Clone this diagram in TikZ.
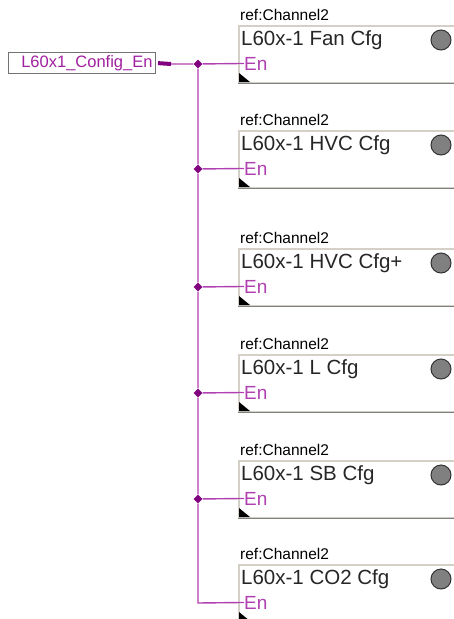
\documentclass[tikz,border=0pt]{standalone}
\usepackage{fontspec}
\setmainfont{Liberation Sans}
\usetikzlibrary{shapes.geometric}

\definecolor{wirecol}{HTML}{B040B0}
\definecolor{dotcol}{HTML}{800080}
\definecolor{txtcol}{HTML}{A020A0}
\definecolor{edgelt}{HTML}{D4D0C8}
\definecolor{edgedk}{HTML}{808080}

\tikzset{
  blk/.style={draw=edgelt, line width=1.5pt, fill=white, anchor=north west,
    minimum width=250, minimum height=57, inner sep=0pt},
  reflbl/.style={anchor=base west, inner sep=0pt, font=\fontsize{15.5}{17}\selectfont},
  ttl/.style={anchor=base west, inner sep=0pt, text=black!85, font=\fontsize{20.5}{24}\selectfont},
  enlbl/.style={anchor=base west, inner sep=0pt, text=wirecol, font=\fontsize{19}{22}\selectfont},
  lamp/.style={circle, draw=black!80, fill=edgedk, line width=1pt, minimum size=20, inner sep=0pt},
  jdot/.style={diamond, fill=dotcol, minimum size=9, inner sep=0pt},
  wire/.style={draw=wirecol, line width=1.4pt},
  shade/.style={draw=edgedk, line width=1.5pt},
  tri/.style={fill=black},
}

\begin{document}
\begin{tikzpicture}[x=1pt, y=-1pt]
  \useasboundingbox (0,0) rectangle (454,619);

  % input variable
  \node[draw=black!55, line width=1pt, fill=white, minimum width=147, minimum height=21,
    text width=141, align=right, inner sep=2pt, text=txtcol,
    font=\fontsize{16.5}{18}\selectfont] (cfg) at (82,63) {L60x1\_Config\_En};
  \coordinate (stub) at (171,64);

  % blocks
  \node[reflbl] (ref1) at (240,20) {ref:Channel2};
  \node[blk] (blk1) at (238,25) {};
  \node[ttl] (t1) at (241,45) {L60x-1 Fan Cfg};
  \node[lamp] (l1) at (441,40) {};
  \node[enlbl] (e1) at (244,70) {En};
  \node[jdot] (j1) at (198,64) {};

  \node[reflbl] (ref2) at (240,125) {ref:Channel2};
  \node[blk] (blk2) at (238,130) {};
  \node[ttl] (t2) at (241,150) {L60x-1 HVC Cfg};
  \node[lamp] (l2) at (441,145) {};
  \node[enlbl] (e2) at (244,175) {En};
  \node[jdot] (j2) at (198,169) {};

  \node[reflbl] (ref3) at (240,243) {ref:Channel2};
  \node[blk] (blk3) at (238,248) {};
  \node[ttl] (t3) at (241,268) {L60x-1 HVC Cfg+};
  \node[lamp] (l3) at (441,263) {};
  \node[enlbl] (e3) at (244,293) {En};
  \node[jdot] (j3) at (198,287) {};

  \node[reflbl] (ref4) at (240,349) {ref:Channel2};
  \node[blk] (blk4) at (238,354) {};
  \node[ttl] (t4) at (241,374) {L60x-1 L Cfg};
  \node[lamp] (l4) at (441,369) {};
  \node[enlbl] (e4) at (244,399) {En};
  \node[jdot] (j4) at (198,393) {};

  \node[reflbl] (ref5) at (240,455) {ref:Channel2};
  \node[blk] (blk5) at (238,460) {};
  \node[ttl] (t5) at (241,480) {L60x-1 SB Cfg};
  \node[lamp] (l5) at (441,475) {};
  \node[enlbl] (e5) at (244,505) {En};
  \node[jdot] (j5) at (198,499) {};

  \node[reflbl] (ref6) at (240,559) {ref:Channel2};
  \node[blk] (blk6) at (238,564) {};
  \node[ttl] (t6) at (241,584) {L60x-1 CO2 Cfg};
  \node[lamp] (l6) at (441,579) {};
  \node[enlbl] (e6) at (244,609) {En};
  \coordinate (bend6) at (198,603);

  % bottom edges and corner marks
  \draw[shade] (blk1.south west) -- (blk1.south east);
  \draw[shade] (blk2.south west) -- (blk2.south east);
  \draw[shade] (blk3.south west) -- (blk3.south east);
  \draw[shade] (blk4.south west) -- (blk4.south east);
  \draw[shade] (blk5.south west) -- (blk5.south east);
  \draw[shade] (blk6.south west) -- (blk6.south east);
  \fill[tri] (239,73) -- (239,82) -- (250,82) -- cycle;
  \fill[tri] (239,178) -- (239,187) -- (250,187) -- cycle;
  \fill[tri] (239,296) -- (239,305) -- (250,305) -- cycle;
  \fill[tri] (239,402) -- (239,411) -- (250,411) -- cycle;
  \fill[tri] (239,508) -- (239,517) -- (250,517) -- cycle;
  \fill[tri] (239,612) -- (239,621) -- (250,621) -- cycle;

  % wiring
  \draw[dotcol, line width=4pt, shorten <=2pt] (cfg.east) -- (stub);
  \draw[wire] (stub) -- (j1) -- (e1.west);
  \draw[wire] (j1) -- (j2) -- (j3) -- (j4) -- (j5) -- (bend6) -- (e6.west);
  \draw[wire] (j2) -- (e2.west);
  \draw[wire] (j3) -- (e3.west);
  \draw[wire] (j4) -- (e4.west);
  \draw[wire] (j5) -- (e5.west);
\end{tikzpicture}
\end{document}
